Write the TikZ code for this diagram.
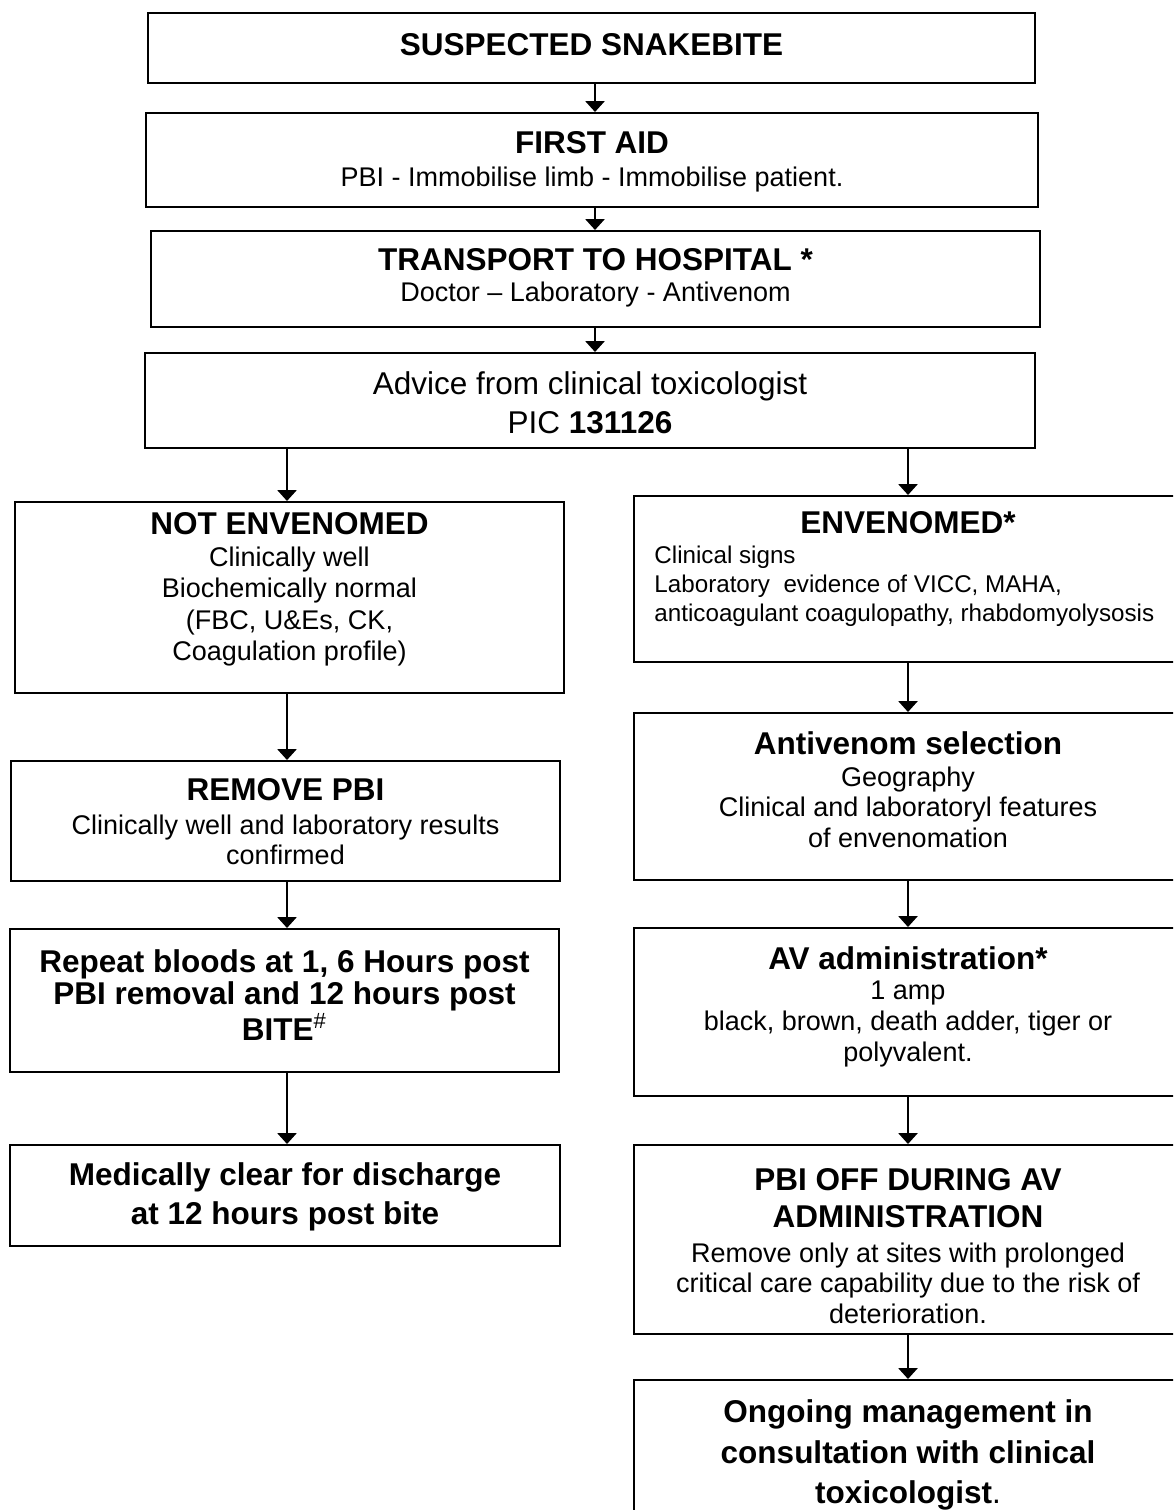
\documentclass[tikz,border=0pt]{standalone}
\usepackage{fontspec}
\setmainfont{Liberation Sans}
\usetikzlibrary{arrows.meta,fit}

\tikzset{
  box/.style={draw, line width=0.9pt, inner sep=0pt},
  arr/.style={line width=0.7pt, -{Triangle[width=8.5pt,length=4.8pt]}},
  hd/.style={inner sep=0pt, align=center, font=\bfseries\fontsize{14}{#1}\selectfont},
  hd/.default=16.1,
  bd/.style={inner sep=0pt, align=center, font=\fontsize{12}{#1}\selectfont},
  bd/.default=13.8,
}

\begin{document}
\begin{tikzpicture}[x=0.4444pt,y=0.4444pt,yscale=-1]
\useasboundingbox (0,0) rectangle (1173,1510);
\clip (0,0) rectangle (1173,1510);

% columns of the connectors
\coordinate (mid) at (595,0);
\coordinate (lft) at (287,0);
\coordinate (rgt) at (908,0);

%Shape: Rectangle [top column]
\node (snake) [box, fit={(148,13) (1035,83)}] {};
\node (aid) [box, fit={(146,113) (1038,207)}] {};
\node (transport) [box, fit={(151,231) (1040,327)}] {};
\node (advice) [box, fit={(145,353) (1035,448)}] {};
%Shape: Rectangle [left column]
\node (notenv) [box, fit={(15,502) (564,693)}] {};
\node (remove) [box, fit={(11,761) (560,881)}] {};
\node (repeat) [box, fit={(10,929) (559,1072)}] {};
\node (medical) [box, fit={(10,1145) (560,1246)}] {};
%Shape: Rectangle [right column]
\node (env) [box, fit={(634,496) (1182,662)}] {};
\node (select) [box, fit={(634,713) (1182,880)}] {};
\node (admin) [box, fit={(634,928) (1182,1096)}] {};
\node (pbioff) [box, fit={(634,1145) (1182,1334)}] {};
\node (ongoing) [box, fit={(634,1380) (1182,1530)}] {};

% Text Node
\node (snake-t) [hd] at (591.5,45) {SUSPECTED SNAKEBITE};
% Text Node
\node (aid-t) [hd] at (592,143) {FIRST AID};
\node (aid-b) [bd] at (592,180) {PBI - Immobilise limb - Immobilise patient.};
% Text Node
\node (transport-t) [hd] at (595.5,260) {TRANSPORT TO HOSPITAL *};
\node (transport-b) [bd] at (595.5,295) {Doctor – Laboratory - Antivenom};
% Text Node
\node (advice-b) [inner sep=0pt, align=center, font=\fontsize{14}{17.3}\selectfont] at (590,402.5)
  {Advice from clinical toxicologist\\ PIC \textbf{131126}};
% Text Node
\node (notenv-t) [hd] at (289.5,524) {NOT ENVENOMED};
\node (notenv-b) [bd] at (289.5,606.5)
  {Clinically well\\ Biochemically normal\\ (FBC, U\&Es, CK,\\ Coagulation profile)};
% Text Node
\node (remove-t) [hd] at (285.5,790) {REMOVE PBI};
\node (remove-b) [bd=13.3] at (285.5,840) {Clinically well and laboratory results\\ confirmed};
% Text Node
\node (repeat-t) [hd=14.4] at (284.5,995)
  {Repeat bloods at 1, 6 Hours post\\ PBI removal and 12 hours post\\ BITE\textsuperscript{\mdseries\#}};
% Text Node
\node (medical-t) [hd=17.5] at (285,1197) {Medically clear for discharge\\ at 12 hours post bite};
% Text Node
\node (env-t) [hd] at (908,523) {ENVENOMED*};
\node (env-b) [inner sep=0pt, align=left, anchor=west, font=\fontsize{10.75}{13}\selectfont] at (654,586)
  {Clinical signs\\ Laboratory\ \ evidence of VICC, MAHA,\\ anticoagulant coagulopathy, rhabdomyolysosis};
% Text Node
\node (select-t) [hd] at (908,743) {Antivenom selection};
\node (select-b) [bd=13.6] at (908,807) {Geography\\ Clinical and laboratoryl features\\ of envenomation};
% Text Node
\node (admin-t) [hd] at (908,958) {AV administration*};
\node (admin-b) [bd] at (908,1024) {1 amp\\ black, brown, death adder, tiger or\\ polyvalent.};
% Text Node
\node (pbioff-t) [hd=16.4] at (908,1198.5) {PBI OFF DURING AV\\ ADMINISTRATION};
\node (pbioff-b) [bd=13.5] at (908,1283)
  {Remove only at sites with prolonged\\ critical care capability due to the risk of\\ deterioration.};
% Text Node
\node (ongoing-t) [hd=18] at (908,1455)
  {Ongoing management in\\ consultation with clinical\\ toxicologist{\mdseries .}};

%Straight Lines
\draw [arr] (snake.south -| mid) -- (aid.north -| mid);
\draw [arr] (aid.south -| mid) -- (transport.north -| mid);
\draw [arr] (transport.south -| mid) -- (advice.north -| mid);
\draw [arr] (advice.south -| lft) -- (notenv.north -| lft);
\draw [arr] (advice.south -| rgt) -- (env.north -| rgt);
\draw [arr] (notenv.south -| lft) -- (remove.north -| lft);
\draw [arr] (remove.south -| lft) -- (repeat.north -| lft);
\draw [arr] (repeat.south -| lft) -- (medical.north -| lft);
\draw [arr] (env.south -| rgt) -- (select.north -| rgt);
\draw [arr] (select.south -| rgt) -- (admin.north -| rgt);
\draw [arr] (admin.south -| rgt) -- (pbioff.north -| rgt);
\draw [arr] (pbioff.south -| rgt) -- (ongoing.north -| rgt);
\end{tikzpicture}
\end{document}
